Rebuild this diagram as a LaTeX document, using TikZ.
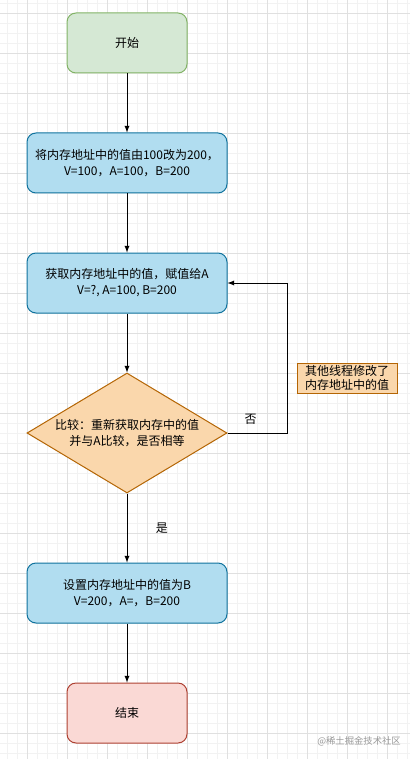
\documentclass[tikz,border=0pt]{standalone}
\usepackage{fontspec}
\setmainfont{Noto Sans CJK SC}
\usetikzlibrary{arrows,calc,shapes.geometric}

\definecolor{startfill}{HTML}{D5E8D4}
\definecolor{startline}{HTML}{82B366}
\definecolor{procfill}{HTML}{B1DDF0}
\definecolor{procline}{HTML}{10739E}
\definecolor{condfill}{HTML}{FAD7AC}
\definecolor{condline}{HTML}{B46504}
\definecolor{endfill}{HTML}{FAD9D5}
\definecolor{endline}{HTML}{AE4132}

\tikzset{
  box/.style={rectangle,rounded corners=6.75pt,line width=.75pt,align=center,
    font=\fontsize{9}{12}\selectfont},
  startbox/.style={box,fill=startfill,draw=startline,minimum width=90pt,minimum height=45pt},
  procbox/.style={box,fill=procfill,draw=procline,minimum width=150pt,minimum height=45pt},
  endbox/.style={box,fill=endfill,draw=endline,minimum width=90pt,minimum height=45pt},
  decision/.style={diamond,fill=condfill,draw=condline,line width=.75pt,align=center,
    inner sep=0pt,shape aspect=1.67,minimum width=150pt,minimum height=90pt,
    font=\fontsize{9}{12}\selectfont},
  notebox/.style={rectangle,fill=condfill,draw=condline,line width=.75pt,align=center,
    inner sep=1pt,minimum width=75pt,minimum height=22.5pt,
    font=\fontsize{9}{11}\selectfont},
  flow/.style={->,line width=.75pt},
  lbl/.style={font=\fontsize{9}{11}\selectfont}
}

\begin{document}
\begin{tikzpicture}[x=.75pt,y=-.75pt,>=latex]
	%fundo e grade
	\useasboundingbox (0,0) rectangle (410,759);
	\fill[white] (0,0) rectangle (410,759);
	\foreach \x in {-3,7,...,407}
		\draw[black!5,line width=.4pt] (\x,0) -- (\x,759);
	\foreach \y in {3,13,...,753}
		\draw[black!5,line width=.4pt] (0,\y) -- (410,\y);
	\foreach \x in {27,67,...,387}
		\draw[black!12,line width=.5pt] (\x,0) -- (\x,759);
	\foreach \y in {13,53,...,733}
		\draw[black!12,line width=.5pt] (0,\y) -- (410,\y);
	%caixas
	\node[startbox] (start) at (127,43) {开始};
	\node[procbox] (set) at (127,163) {将内存地址中的值由100改为200，\\V=100，A=100，B=200};
	\node[procbox] (read) at (127,283) {获取内存地址中的值，赋值给A\\V=?, A=100, B=200};
	\node[decision] (cmp) at (127,433) {比较：重新获取内存中的值\\并与A比较，是否相等};
	\node[procbox] (write) at (127,593) {设置内存地址中的值为B\\V=200，A=，B=200};
	\node[endbox] (stop) at (127,713) {结束};
	\node[notebox] (other) at (347,378) {其他线程修改了\\内存地址中的值};
	%setas
	\draw[flow] (start) -- (set);
	\draw[flow] (set) -- (read);
	\draw[flow] (read) -- (cmp);
	\draw[flow] (cmp) -- node[lbl,right=18pt] {是} (write);
	\draw[flow] (write) -- (stop);
	%laco
	\coordinate (back) at (287,433);
	\draw[flow] (cmp.east) -- node[lbl,above=3pt,xshift=-5pt] {否} (back) |- (read.east);
	%marca
	\node[font=\fontsize{7}{8}\selectfont,text=black!40] (mark) at (359,741) {@稀土掘金技术社区};
\end{tikzpicture}
\end{document}
